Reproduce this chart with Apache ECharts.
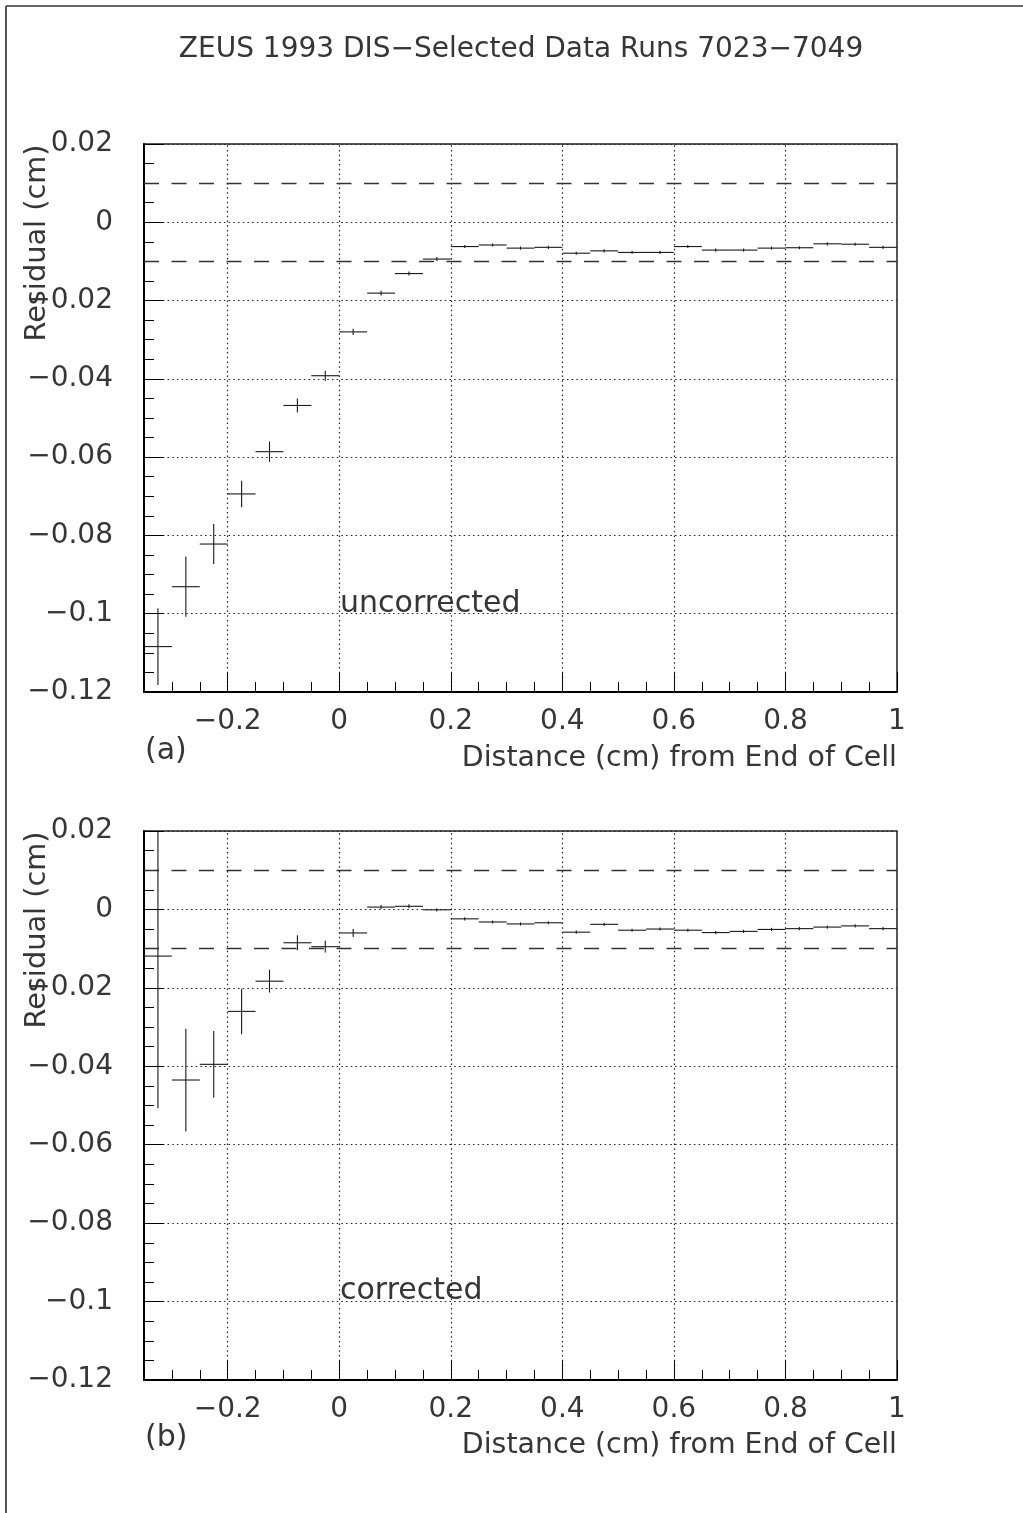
<!DOCTYPE html>
<html>
<head>
<meta charset="utf-8">
<script src="https://cdn.jsdelivr.net/npm/echarts@6/dist/echarts.min.js"></script>
<style>
html,body{margin:0;padding:0;background:#fff;}
#chart{width:1023px;height:1513px;}
</style>
</head>
<body>
<div id="chart"></div>
<script>
// ---------- data ----------
const binCenters = [-0.325,-0.275,-0.225,-0.175,-0.125,-0.075,-0.025,0.025,0.075,0.125,0.175,0.225,0.275,0.325,0.375,0.425,0.475,0.525,0.575,0.625,0.675,0.725,0.775,0.825,0.875,0.925,0.975];
const binHalfWidth = 0.025;

const uncorrectedResidual = [-0.1084,-0.0931,-0.0822,-0.0694,-0.0586,-0.0468,-0.0392,-0.0280,-0.0181,-0.0131,-0.0094,-0.0062,-0.0058,-0.0066,-0.0064,-0.0079,-0.0073,-0.0077,-0.0077,-0.0062,-0.0071,-0.0071,-0.0066,-0.0065,-0.0055,-0.0056,-0.0064];
const uncorrectedError    = [0.0098,0.0077,0.0051,0.0034,0.0026,0.0018,0.0013,0.0008,0.0006,0.0005,0.0005,0.0004,0.0004,0.0004,0.0004,0.0004,0.0004,0.0004,0.0004,0.0004,0.0004,0.0004,0.0004,0.0004,0.0004,0.0004,0.0004];

const correctedResidual = [-0.0119,-0.0435,-0.0395,-0.0260,-0.0183,-0.0085,-0.0095,-0.0060,0.0006,0.0008,-0.0001,-0.0024,-0.0032,-0.0037,-0.0034,-0.0058,-0.0038,-0.0053,-0.0050,-0.0053,-0.0059,-0.0056,-0.0051,-0.0049,-0.0045,-0.0042,-0.0049];
const correctedError    = [0.0388,0.0131,0.0085,0.0058,0.0029,0.0019,0.0015,0.0010,0.0005,0.0005,0.0004,0.0004,0.0004,0.0004,0.0004,0.0004,0.0004,0.0004,0.0004,0.0004,0.0004,0.0004,0.0004,0.0004,0.0004,0.0004,0.0004];

const xTickValues = [-0.2,0,0.2,0.4,0.6,0.8,1];
const xTickLabels = ['\u22120.2','0','0.2','0.4','0.6','0.8','1'];
const xGridValues = [-0.2,0,0.2,0.4,0.6,0.8];
const yTickValues = [-0.12,-0.1,-0.08,-0.06,-0.04,-0.02,0,0.02];
const yTickLabels = ['\u22120.12','\u22120.1','\u22120.08','\u22120.06','\u22120.04','\u22120.02','0','0.02'];
const toleranceLines = [0.01,-0.01];

const titleText = 'ZEUS 1993 DIS\u2212Selected Data Runs 7023\u22127049';
const xName = 'Distance (cm) from End of Cell';
const yName = 'Residual (cm)';
const panelTags = ['(a)','(b)'];
const panelNotes = ['uncorrected','corrected'];

// ---------- chart ----------
const FONT = "'DejaVu Sans', 'Liberation Sans', sans-serif";
const TXT = '#363636';

function lookup(values, labels, v) {
  for (let i = 0; i < values.length; i++) if (Math.abs(values[i] - v) < 1e-9) return labels[i];
  return '';
}

function renderErr(params, api) {
  const x = api.value(0), y = api.value(1), e = api.value(2);
  const l = api.coord([x - binHalfWidth, y]);
  const r = api.coord([x + binHalfWidth, y]);
  const t = api.coord([x, y + e]);
  const b = api.coord([x, y - e]);
  const st = {stroke: '#1a1a1a', lineWidth: 1.1};
  return {
    type: 'group',
    children: [
      {type: 'line', shape: {x1: l[0], y1: l[1], x2: r[0], y2: r[1]}, style: st},
      {type: 'line', shape: {x1: t[0], y1: t[1], x2: b[0], y2: b[1]}, style: st}
    ]
  };
}

const grids = [
  {left: 144, top: 144, width: 753, height: 548},
  {left: 144, top: 831, width: 753, height: 549}
];

const xAxes = [], yAxes = [], series = [];
grids.forEach((g, gi) => {
  // minor ticks axis
  xAxes.push({
    type: 'value', gridIndex: gi, min: -0.35, max: 1, interval: 0.05, position: 'bottom',
    axisLine: {show: true, onZero: false, lineStyle: {color: '#000', width: 2}},
    axisTick: {show: true, inside: true, length: 10, lineStyle: {color: '#000', width: 1}},
    axisLabel: {show: false},
    splitLine: {show: false}
  });
  // major ticks + labels axis
  xAxes.push({
    type: 'value', gridIndex: gi, min: -0.35, max: 1, position: 'bottom',
    axisLine: {show: false, onZero: false},
    axisTick: {show: true, inside: true, length: 20, customValues: xTickValues, lineStyle: {color: '#000', width: 1}},
    axisLabel: {show: true, customValues: xTickValues, margin: 16, fontFamily: FONT, fontSize: 28, color: TXT,
      formatter: v => lookup(xTickValues, xTickLabels, v)},
    splitLine: {show: false}
  });
  yAxes.push({
    type: 'value', gridIndex: gi, min: -0.12, max: 0.02, interval: 0.02,
    axisLine: {show: true, onZero: false, lineStyle: {color: '#000', width: 2}},
    axisTick: {show: true, inside: true, length: 20, lineStyle: {color: '#000', width: 1}},
    minorTick: {show: true, splitNumber: 4, length: 10, lineStyle: {color: '#000', width: 1}},
    axisLabel: {show: true, margin: 31, fontFamily: FONT, fontSize: 28, color: TXT,
      formatter: v => lookup(yTickValues, yTickLabels, v)},
    splitLine: {show: true, lineStyle: {color: '#222', width: 1.2, type: [1.5, 3.2]}}
  });
  const res = gi === 0 ? uncorrectedResidual : correctedResidual;
  const err = gi === 0 ? uncorrectedError : correctedError;
  series.push({
    type: 'custom', xAxisIndex: gi * 2, yAxisIndex: gi, clip: true, silent: true,
    renderItem: renderErr,
    data: binCenters.map((x, i) => [x, res[i], err[i]]),
    markLine: {
      silent: true, symbol: 'none', animation: false, label: {show: false},
      data: [
        ...xGridValues.map(v => ({xAxis: v, lineStyle: {color: '#222', width: 1.2, type: [1.5, 3.2]}})),
        ...toleranceLines.map(v => ({yAxis: v, lineStyle: {color: '#333', width: 1.3, type: [15, 12.5]}}))
      ]
    },
    z: 5
  });
});

const textStyleBase = {fontFamily: FONT, fontSize: 28, fill: TXT};
const graphics = [
  {type: 'line', shape: {x1: 6, y1: 6, x2: 1023, y2: 6}, style: {stroke: '#333', lineWidth: 1.5}},
  {type: 'line', shape: {x1: 6, y1: 6, x2: 6, y2: 1513}, style: {stroke: '#555', lineWidth: 2}},
  {type: 'text', x: 521, y: 50, style: Object.assign({}, textStyleBase, {text: titleText, align: 'center', verticalAlign: 'middle'})}
];
const panelOffsets = [0, 687];
panelOffsets.forEach((dy, i) => {
  graphics.push({type: 'text', x: 145, y: 751 + dy, style: Object.assign({}, textStyleBase, {fontSize: 30, text: panelTags[i], align: 'left', verticalAlign: 'middle'})});
  graphics.push({type: 'text', x: 897, y: 759 + dy, style: Object.assign({}, textStyleBase, {fontSize: 28.4, text: xName, align: 'right', verticalAlign: 'middle'})});
  graphics.push({type: 'text', x: 38, y: 243 + dy, rotation: Math.PI / 2, style: Object.assign({}, textStyleBase, {fontSize: 28.8, text: yName, align: 'center', verticalAlign: 'middle'})});
  graphics.push({type: 'text', x: 340, y: 604 + dy, style: Object.assign({}, textStyleBase, {fontSize: 30, text: panelNotes[i], align: 'left', verticalAlign: 'middle'})});
});

const chart = echarts.init(document.getElementById('chart'), null, {renderer: 'canvas'});
chart.setOption({
  animation: false,
  backgroundColor: '#fff',
  grid: grids.map(g => Object.assign({show: true, borderColor: '#222', borderWidth: 1.5, backgroundColor: 'transparent'}, g)),
  xAxis: xAxes,
  yAxis: yAxes,
  series: series,
  graphic: graphics
});
</script>
</body>
</html>
